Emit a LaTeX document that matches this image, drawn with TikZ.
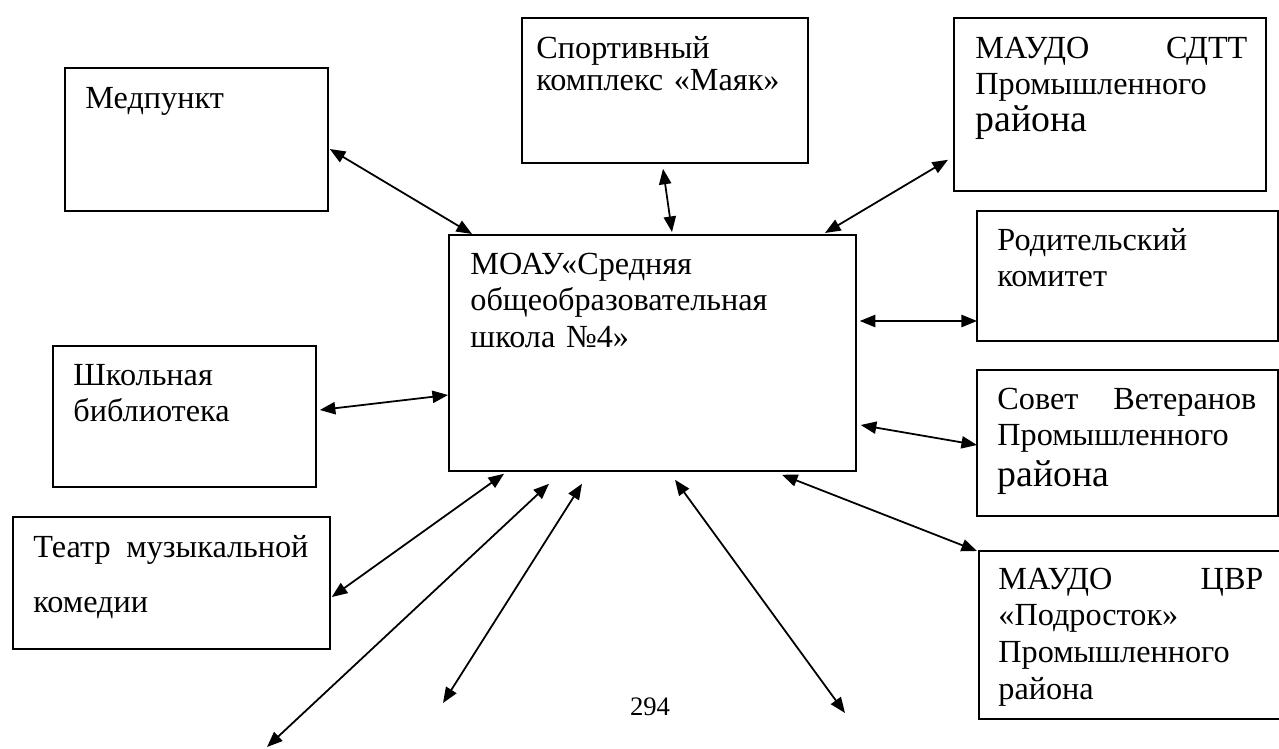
\documentclass[tikz,border=0pt]{standalone}
\usepackage{fontspec}
\setmainfont{Liberation Serif}
\usetikzlibrary{arrows.meta, calc}
\tikzset{
    box/.style={rectangle, draw, line width=0.8pt, anchor=north west, inner sep=0pt},
    txt/.style={anchor=base west, inner sep=0pt, align=left, font=\fontsize{14.5pt}{16.5pt}\selectfont},
    conn/.style={{Triangle[length=7pt, width=5.5pt]}-{Triangle[length=7pt, width=5.5pt]}, line width=0.8pt}
}

\begin{document}
\begin{tikzpicture}[x=0.45pt, y=-0.45pt]
        \useasboundingbox (0,0) rectangle (1279,749);
        \clip (0,0) rectangle (1279,749);

        % Рамки
        \node[box, minimum width=183.15pt, minimum height=106.2pt] (school) at (448,234) {};
        \node[box, minimum width=118.35pt, minimum height=64.35pt] (med) at (64,67) {};
        \node[box, minimum width=128.7pt, minimum height=65.25pt] (sport) at (521,17) {};
        \node[box, minimum width=140.4pt, minimum height=77.85pt] (sdtt) at (953,17) {};
        \node[box, minimum width=135.45pt, minimum height=58.5pt] (parents) at (976,210) {};
        \node[box, minimum width=118.35pt, minimum height=63.45pt] (library) at (52,345) {};
        \node[box, minimum width=135.45pt, minimum height=65.7pt] (veterans) at (976,369) {};
        \node[box, minimum width=142.65pt, minimum height=59.4pt] (theatre) at (12,516) {};
        \node[box, minimum width=200pt, minimum height=75.6pt] (cvr) at (978,550) {};

        % Подписи
        \node[txt, text width=165pt] (schooltxt) at ($(school.north west)+(22,40)$)
            {МОАУ«Средняя\\общеобразовательная\\школа №4»};
        \node[txt, text width=100pt] (medtxt) at ($(med.north west)+(21,41)$) {Медпункт};
        \node[txt, text width=122pt, font=\fontsize{14.5pt}{14.4pt}\selectfont] (sporttxt)
            at ($(sport.north west)+(15,41)$) {Спортивный\\комплекс «Маяк»};
        \node[txt, text width=122.4pt] (sdtttxt) at ($(sdtt.north west)+(22,41)$)
            {МАУДО\hfill СДТТ\\Промышленного\\{\fontsize{17pt}{20pt}\selectfont района}};
        \node[txt, text width=125pt] (parentstxt) at ($(parents.north west)+(21,40)$)
            {Родительский\\комитет};
        \node[txt, text width=105pt] (librarytxt) at ($(library.north west)+(21,40)$)
            {Школьная\\библиотека};
        \node[txt, text width=116.55pt] (veteranstxt) at ($(veterans.north west)+(21,40)$)
            {Совет\hfill Ветеранов\\Промышленного\\[2pt]{\fontsize{17pt}{20pt}\selectfont района}};
        \node[txt, text width=123.75pt, font=\fontsize{14.5pt}{24.75pt}\selectfont] (theatretxt)
            at ($(theatre.north west)+(21,41)$) {Театр\hfill музыкальной\\комедии};
        \node[txt, text width=119.25pt] (cvrtxt) at ($(cvr.north west)+(20,39)$)
            {МАУДО\hfill ЦВР\\«Подросток»\\Промышленного\\района};

        % Номер страницы
        \node[anchor=base, inner sep=0pt, font=\fontsize{12pt}{14pt}\selectfont] (pagenum) at (650,715) {294};

        % Свободные концы
        \coordinate (endA) at (267,747);
        \coordinate (endB) at (443,703);
        \coordinate (endC) at (845,713);

        % Связи
        \draw[conn] ($(med.north east)+(1,82)$) -- ($(school.north west)+(24,0)$);
        \draw[conn] ($(sport.south west)+(142,5)$) -- ($(school.north west)+(224,-2)$);
        \draw[conn] ($(sdtt.south west)+(-5,-32)$) -- ($(school.north west)+(377,-1)$);
        \draw[conn] ($(school.north east)+(3,87)$) -- ($(parents.north west)+(1,111)$);
        \draw[conn] ($(school.north east)+(4,191)$) -- ($(veterans.north west)+(1,76)$);
        \draw[conn] ($(school.south west)+(334,3)$) -- ($(cvr.north west)+(-1,1)$);
        \draw[conn] ($(library.north east)+(3,65)$) -- ($(school.north west)+(0,161)$);
        \draw[conn] ($(theatre.north east)+(1,81)$) -- ($(school.south west)+(56,2)$);
        \draw[conn] ($(school.south west)+(101,12)$) -- (endA);
        \draw[conn] ($(school.south west)+(134,12)$) -- (endB);
        \draw[conn] ($(school.south west)+(227,8)$) -- (endC);
\end{tikzpicture}
\end{document}
